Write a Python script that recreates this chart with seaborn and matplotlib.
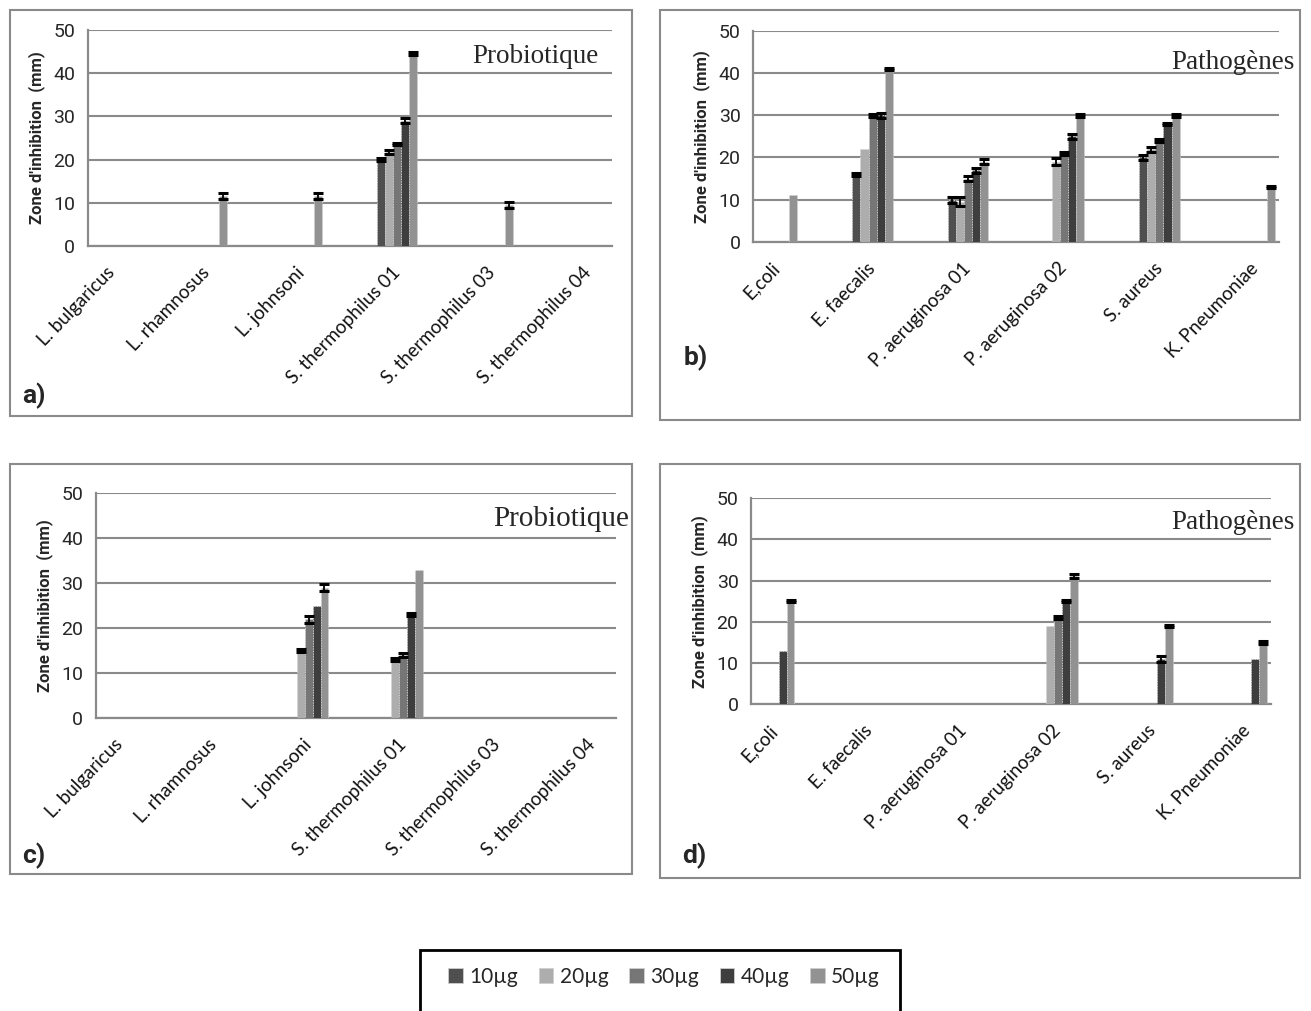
import numpy as np
import pandas as pd
import matplotlib
matplotlib.use("Agg")
import matplotlib.pyplot as plt
import seaborn as sns
from matplotlib.patches import Rectangle, Patch

nan = np.nan

# ---------------- data ----------------
probiotic_strains = ["L. bulgaricus", "L. rhamnosus", "L. johnsoni",
                     "S. thermophilus 01", "S. thermophilus 03", "S. thermophilus 04"]
pathogens = ["E,coli", "E. faecalis", "P. aeruginosa 01",
             "P. aeruginosa 02", "S. aureus", "K. Pneumoniae"]
doses = ["10µg", "20µg", "30µg", "40µg", "50µg"]
dose_colors = ["#4f4f4f", "#adadad", "#767676", "#3e3e3e", "#929292"]

# rows: doses (10..50 µg), columns: strains
a_values = [[nan, nan, nan, 20.0, nan, nan],
            [nan, nan, nan, 21.8, nan, nan],
            [nan, nan, nan, 23.6, nan, nan],
            [nan, nan, nan, 29.0, nan, nan],
            [nan, 11.5, 11.5, 44.5, 9.5, nan]]
a_errors = [[nan, nan, nan, 0.4, nan, nan],
            [nan, nan, nan, 0.5, nan, nan],
            [nan, nan, nan, 0.3, nan, nan],
            [nan, nan, nan, 0.6, nan, nan],
            [nan, 0.7, 0.7, 0.4, 0.8, nan]]

b_values = [[nan, 16.0, 10.0, nan, 20.0, nan],
            [nan, 22.0, 9.5, 19.0, 22.0, nan],
            [nan, 30.0, 15.0, 21.0, 24.0, nan],
            [nan, 30.0, 17.0, 25.0, 28.0, nan],
            [11.0, 41.0, 19.0, 30.0, 30.0, 13.0]]
b_errors = [[nan, 0.3, 0.7, nan, 0.7, nan],
            [nan, 0.0, 1.0, 0.8, 0.6, nan],
            [nan, 0.3, 0.7, 0.3, 0.3, nan],
            [nan, 0.6, 0.6, 0.6, 0.3, nan],
            [0.0, 0.3, 0.6, 0.3, 0.3, 0.3]]

c_values = [[nan, nan, nan, nan, nan, nan],
            [nan, nan, 15.0, 13.0, nan, nan],
            [nan, nan, 22.0, 14.0, nan, nan],
            [nan, nan, 25.0, 23.0, nan, nan],
            [nan, nan, 29.0, 33.0, nan, nan]]
c_errors = [[nan, nan, nan, nan, nan, nan],
            [nan, nan, 0.3, 0.3, nan, nan],
            [nan, nan, 0.8, 0.5, nan, nan],
            [nan, nan, 0.0, 0.3, nan, nan],
            [nan, nan, 0.7, 0.0, nan, nan]]

d_values = [[nan, nan, nan, nan, nan, nan],
            [nan, nan, nan, 19.0, nan, nan],
            [nan, nan, nan, 21.0, nan, nan],
            [13.0, nan, nan, 25.0, 11.0, 11.0],
            [25.0, nan, nan, 31.0, 19.0, 15.0]]
d_errors = [[nan, nan, nan, nan, nan, nan],
            [nan, nan, nan, 0.0, nan, nan],
            [nan, nan, nan, 0.3, nan, nan],
            [0.0, nan, nan, 0.3, 0.8, 0.0],
            [0.3, nan, nan, 0.5, 0.3, 0.3]]

y_ticks = [0, 10, 20, 30, 40, 50]

# ---------------- style ----------------
sns.set_theme(style="white")
plt.rcParams["font.family"] = ["Lato", "DejaVu Sans"]
NARROW = ["Liberation Sans Narrow", "Roboto", "DejaVu Sans"]
GRAY = "#8a8a8a"

W, H = 1311, 1011
fig = plt.figure(figsize=(W / 100, H / 100), dpi=100)


def px_axes(left, right, top, bottom):
    return fig.add_axes([left / W, 1 - bottom / H, (right - left) / W, (bottom - top) / H])


def px_rect(left, top, right, bottom, **kw):
    fig.add_artist(Rectangle((left / W, 1 - bottom / H), (right - left) / W, (bottom - top) / H,
                             transform=fig.transFigure, fill=False, **kw))


BAR_W = 0.84


def draw_panel(ax, cats, values, errors, title, title_xy, title_size, letter, letter_xy):
    rows = []
    for d, dose in enumerate(doses):
        for c, cat in enumerate(cats):
            v = values[d][c]
            if not np.isnan(v):
                rows.append({"cat": cat, "dose": dose, "val": v})
    df = pd.DataFrame(rows)
    order = []
    for i, cat in enumerate(cats):
        order.append(cat)
        if i < len(cats) - 1:
            order.append(" " * (i + 1))
    sns.barplot(data=df, x="cat", y="val", hue="dose", order=order, hue_order=doses,
                palette=dose_colors, width=BAR_W, errorbar=None, legend=False,
                saturation=1, edgecolor="#d4d4d4", linewidth=0.7, linestyle=":",
                ax=ax, zorder=3)
    # error bars on top of library-drawn bars
    slot_w = BAR_W / len(doses)
    for bar in ax.patches:
        h = bar.get_height()
        if h is None or np.isnan(h) or bar.get_width() <= 0:
            continue
        xc = bar.get_x() + bar.get_width() / 2
        ci = int(round(xc))
        if order[ci] not in cats:
            continue
        c = cats.index(order[ci])
        slot = int(round((xc - ci + BAR_W / 2) / slot_w - 0.5))
        e = errors[slot][c]
        if np.isnan(e) or e <= 0:
            continue
        ax.errorbar(xc, h, yerr=e, color="black", lw=1.3, capsize=3.5, capthick=2.2, zorder=4)

    ax.set_xlim(-0.5, len(order) - 0.5)
    ax.set_ylim(0, 50)
    ax.set_yticks(y_ticks)
    ax.set_yticklabels([str(t) for t in y_ticks], family=NARROW, fontsize=14)
    ax.set_xticks(range(len(order)))
    ax.set_xticklabels([o if o in cats else "" for o in order], rotation=46, ha="right",
                       va="center", rotation_mode="anchor", fontsize=13.5, color="#111111")
    ax.set_xticks(np.arange(-0.5, len(order), 1.0), minor=True)
    ax.tick_params(axis="x", which="major", length=0, pad=17)
    ax.tick_params(axis="x", which="minor", length=5, width=1.2, color=GRAY, direction="out")
    ax.tick_params(axis="y", length=5, width=1.2, color=GRAY, direction="out", pad=4)
    ax.grid(axis="y", color=GRAY, lw=1.5, zorder=0)
    ax.set_axisbelow(True)
    for s in ["top", "right"]:
        ax.spines[s].set_visible(False)
    for s in ["left", "bottom"]:
        ax.spines[s].set_color(GRAY)
        ax.spines[s].set_linewidth(1.6)
    ax.set_xlabel("")
    ax.set_ylabel("Zone d'inhibition  (mm)", family=NARROW, fontweight="bold", fontsize=12,
                  labelpad=6)
    ax.text(title_xy[0], title_xy[1], title, transform=ax.transAxes, ha="right", va="center",
            family=["Liberation Serif", "DejaVu Serif"], fontsize=title_size)
    fig.text(letter_xy[0] / W, 1 - letter_xy[1] / H, letter, ha="left", va="center",
             family=NARROW, fontweight="bold", fontsize=19)


# panel frames
px_rect(10, 10, 632, 416, edgecolor=GRAY, lw=1.5)
px_rect(660, 10, 1300, 420, edgecolor=GRAY, lw=1.5)
px_rect(10, 464, 632, 874, edgecolor=GRAY, lw=1.5)
px_rect(660, 464, 1300, 878, edgecolor=GRAY, lw=1.5)

ax_a = px_axes(87.6, 612, 30, 246)
draw_panel(ax_a, probiotic_strains, a_values, a_errors, "Probiotique", (0.975, 0.875), 19.5,
           "a)", (22, 396))
ax_b = px_axes(753, 1279, 31.2, 241.7)
draw_panel(ax_b, pathogens, b_values, b_errors, "Pathogènes", (1.03, 0.85), 19.5,
           "b)", (684, 358))
ax_c = px_axes(95.8, 616, 493, 718.3)
draw_panel(ax_c, probiotic_strains, c_values, c_errors, "Probiotique", (1.025, 0.885), 21,
           "c)", (22, 856))
ax_d = px_axes(751, 1271, 498, 704.3)
draw_panel(ax_d, pathogens, d_values, d_errors, "Pathogènes", (1.046, 0.88), 19.5,
           "d)", (682, 856))

# legend
px_rect(420, 950, 900, 1030, edgecolor="black", lw=2, clip_on=False)
handles = [Patch(facecolor=col, edgecolor="#cfcfcf", lw=0.6) for col in dose_colors]
fig.legend(handles, doses, loc="center", bbox_to_anchor=(664 / W, 1 - 977 / H), ncol=5,
           frameon=False, fontsize=15, handlelength=0.7, handleheight=0.7,
           handletextpad=0.3, columnspacing=1.0)

fig.savefig("out.png", dpi=100)
